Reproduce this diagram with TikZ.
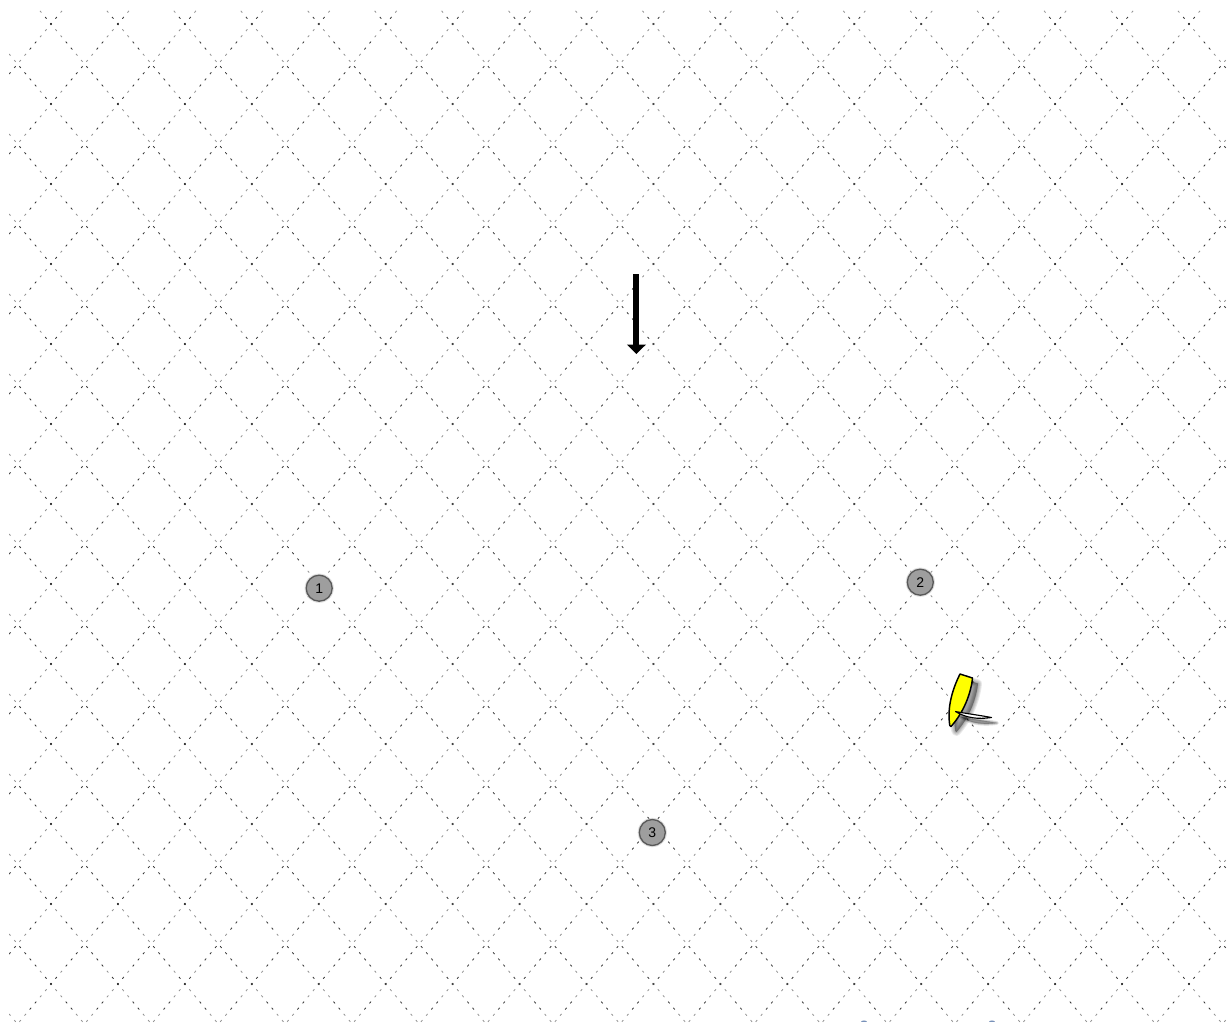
\documentclass[tikz,border=0pt]{standalone}
\usepackage{fontspec}
\setmainfont{Liberation Sans}
\definecolor{boatyellow}{RGB}{255,255,0}
\definecolor{edgeblue}{RGB}{120,145,185}
\tikzset{
  gridline/.style={line width=0.62pt, draw=black!78, dash pattern=on 1.7pt off 16.354pt on 1.7pt off 4.318pt on 1.7pt off 16.354pt on 1.7pt off 4.318pt on 1.7pt off 4.318pt on 1.7pt off 4.318pt on 1.7pt off 10.336pt on 1.7pt off 4.318pt, dash phase=0.85pt},
  gridlinelight/.style={line width=0.62pt, draw=black!42, dash pattern=on 1.7pt off 4.318pt on 1.7pt off 16.354pt on 1.7pt off 4.318pt on 1.7pt off 28.39pt on 1.7pt off 16.354pt, dash phase=73.066pt},
  mark point/.style={circle, minimum size=19.5pt, inner sep=0pt, fill=black!38, draw=black!65, line width=1pt, font=\fontsize{10.5}{11}\selectfont, text=black},
  boat hull/.style={fill=boatyellow, draw=black, line width=1.1pt, line join=round},
  sail/.style={fill=white, draw=black, line width=0.85pt, line join=round},
}
\newcommand{\hullpath}{(960,674) -- (972.5,678) .. controls (971,693) and (964,712) .. (951,726.5) -- (949.8,725.5) .. controls (947,708) and (952,690) .. (960,674) -- cycle}
\newcommand{\sailpath}{(955.5,711.5) .. controls (966,718) and (978,719.5) .. (991.5,717.5) .. controls (978,715) and (966,713.5) .. (955.5,711.5) -- cycle}
\begin{document}
\begin{tikzpicture}[x=0.75pt,y=-0.75pt]
\useasboundingbox (0,0) rectangle (1227,1022);
\fill[white] (0,0) rectangle (1227,1022);
\begin{scope}
  \clip (9,10) rectangle (1227,1022);
  \foreach \i in {-16,...,32}{
    \pgfmathsetmacro{\xa}{51+66.94*\i}
    \draw[gridline] (\xa,-56) -- ++(1000,1195.1);
    \draw[gridlinelight] (\xa,-56) -- ++(1000,1195.1);
    \draw[gridline] (\xa,-56) -- ++(-1000,1195.1);
    \draw[gridlinelight] (\xa,-56) -- ++(-1000,1195.1);
  }
\end{scope}
% clipped objects at the lower edge
\fill[edgeblue] (861,1022) .. controls (861,1019.5) and (867,1019.5) .. (867,1022) -- cycle;
\fill[edgeblue] (989,1022) .. controls (989,1019.5) and (995,1019.5) .. (995,1022) -- cycle;
% heading arrow
\fill[black] (633.4,274) rectangle (639.4,346);
\fill[black] (626.8,344.5) -- (646,344.5) -- (636.4,354) -- cycle;
% marks
\foreach \c in {(319.2,588.2),(920.3,582.2),(652.3,832.5)}{
  \fill[black!35,opacity=0.35] \c circle (14.6);
}
\node[mark point] (m1) at (319.2,588.2) {\raisebox{-0.7pt}{1}};
\node[mark point] (m2) at (920.3,582.2) {\raisebox{-0.7pt}{2}};
\node[mark point] (m3) at (652.3,832.5) {\raisebox{-0.7pt}{3}};
% boat shadow
\begin{scope}[shift={(5.5,5.5)}]
  \foreach \d in {6,4.5,3,1.5,0.1}{
    \path[fill=black,draw=black,opacity=0.085,line join=round,line width=\d pt] \hullpath;
    \path[fill=black,draw=black,opacity=0.075,line join=round,line width=0.5*\d pt] \sailpath;
  }
\end{scope}
\path[boat hull] \hullpath;
\path[sail] \sailpath;
\end{tikzpicture}
\end{document}
